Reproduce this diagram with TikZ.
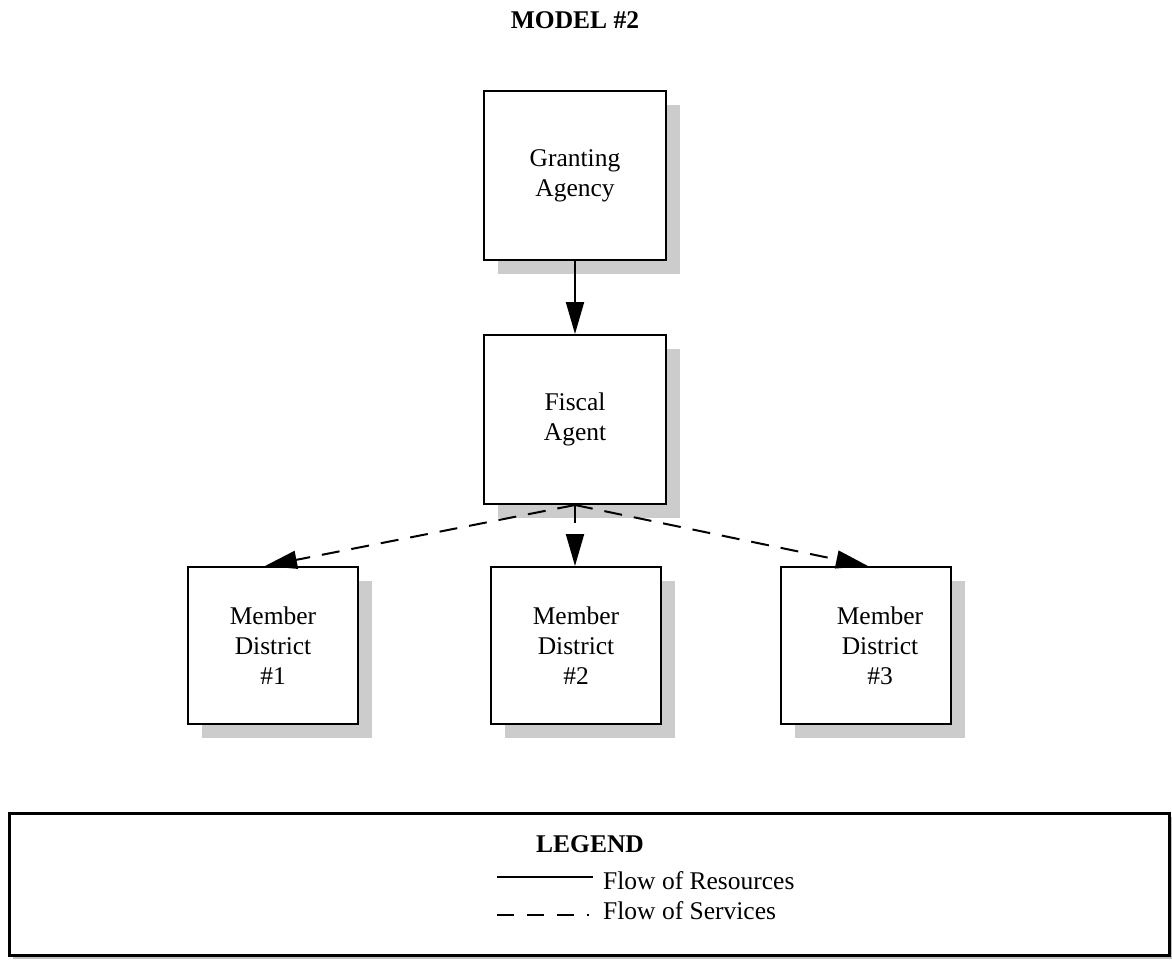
\documentclass[tikz,border=0pt]{standalone}
\usepackage{fontspec}
\setmainfont{Liberation Serif}
\usetikzlibrary{arrows.meta,shadows}
\begin{document}
\begin{tikzpicture}[x=1pt,y=-1pt,
  every node/.style={font=\fontsize{25.5}{30}\selectfont},
  box/.style={draw, line width=2pt, fill=white, align=center, inner sep=0pt,
    drop shadow={shadow xshift=14pt, shadow yshift=-14pt, fill=black!20, opacity=1}},
  bigbox/.style={box, minimum width=182pt, minimum height=169pt},
  smallbox/.style={box, minimum width=170pt, minimum height=157pt},
  res/.style={line width=2pt, -{Triangle[length=32pt,width=18pt]}},
  svc/.style={line width=2pt, dash pattern=on 18pt off 12pt, -{Triangle[length=32pt,width=18pt]}},
  lgd/.style={draw, line width=3pt, fill=white,
    drop shadow={shadow xshift=4pt, shadow yshift=-4pt, fill=black!25, opacity=1}}
]
\useasboundingbox (0,0) rectangle (1172,959);
\fill[white] (0,0) rectangle (1172,959);

\node[anchor=base, font=\fontsize{25.5}{30}\selectfont\bfseries] (title) at (575,28) {MODEL \#2};

\node[bigbox] (ga) at (575,175.5) {Granting\\Agency};
\node[bigbox] (fa) at (575,419.5) {Fiscal\\Agent};
\node[smallbox] (m1) at (273,645.5) {Member\\District\\\#1};
\node[smallbox] (m2) at (576,645.5) {Member\\District\\\#2};
\node[smallbox] (m3) at (866,645.5) {};
\node[align=center, inner sep=0pt] (m3t) at ([xshift=14pt]m3.center) {Member\\District\\\#3};

\draw[res] (ga) -- (fa);
\draw[svc] (fa.south) -- ([xshift=-8pt]m1.north);
\draw[svc] (fa.south) -- (m2.north -| fa.south);
\draw[svc] (fa.south) -- ([xshift=2pt]m3.north);

\node[lgd, minimum width=1160pt, minimum height=142pt, inner sep=0pt] (lg) at (589,884) {};
\node[anchor=base, font=\fontsize{25.5}{30}\selectfont\bfseries] (lgt) at (590,852) {LEGEND};
\coordinate (s1) at (497,877);
\coordinate (s2) at (593,877);
\coordinate (d1) at (497,915);
\coordinate (d2) at (589,915);
\draw[line width=2pt] (s1) -- (s2);
\draw[line width=2pt, dash pattern=on 17pt off 13pt] (d1) -- (d2);
\node[anchor=base west, inner sep=0pt] (r1) at (603,889) {Flow of Resources};
\node[anchor=base west, inner sep=0pt] (r2) at (603,919) {Flow of Services};
\end{tikzpicture}
\end{document}
